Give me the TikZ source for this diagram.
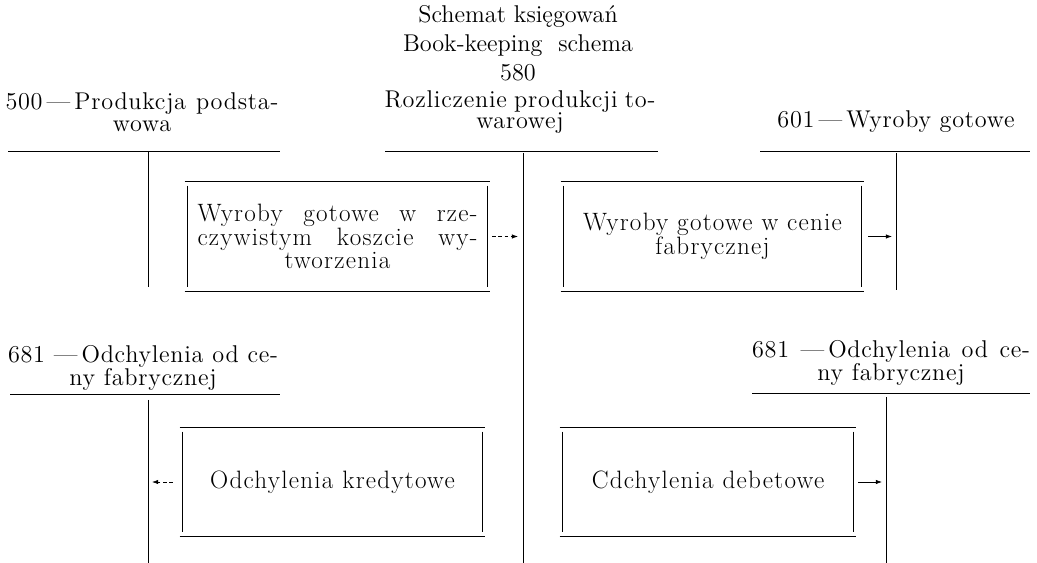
\documentclass[tikz,border=0pt]{standalone}
\usepackage{fontspec}
\newfontfamily\boxfont{Latin Modern Roman}[LetterSpace=5]
\newfontfamily\acctfont{Latin Modern Roman}[LetterSpace=3]
\usetikzlibrary{arrows.meta,positioning}
\tikzset{
  acct/.style={inner sep=0pt, align=center, font=\acctfont\fontsize{13.8}{12.4}\selectfont},
  boxtxt/.style={inner sep=0pt, align=center, font=\boxfont\fontsize{14.3}{13.3}\selectfont},
  tline/.style={line width=0.5pt},
  bline/.style={line width=0.4pt},
  post/.style={-{Latex[length=3.5pt,width=2.5pt]}, line width=0.4pt},
  postd/.style={post, dash pattern=on 2pt off 1.5pt}
}
\begin{document}
\begin{tikzpicture}[x=0.02cm, y=-0.02cm]
  \useasboundingbox (0,0) rectangle (1037,563);
  % title
  \node[acct, font=\fontsize{13.8}{16.5}\selectfont] (title) at (518,43) {Schemat księgowań\\Book-keeping~~schema\\580};
  % account headers
  \node[acct] (acct500) at (142,112) {\makebox[5.46cm][s]{500\,—\,Produkcja podsta-}\\wowa};
  \node[acct] (acct580) at (520,112) {\makebox[5.42cm][s]{Rozliczenie produkcji to-}\\warowej};
  \node[acct] (acct601) at (896,122) {601\,—\,Wyroby gotowe};
  \node[acct] (acct681a) at (143,368) {\makebox[5.4cm][s]{681 —\,Odchylenia od ce-}\\ny fabrycznej};
  \node[acct] (acct681b) at (891,363) {\makebox[5.56cm][s]{681 —\,Odchylenia od ce-}\\ny fabrycznej};
  % T-account lines
  \coordinate (t500L) at (8,151);   \coordinate (t500R) at (280,151);
  \coordinate (t500T) at (148,151); \coordinate (t500B) at (148,287);
  \coordinate (t580L) at (385,151); \coordinate (t580R) at (658,151);
  \coordinate (t580T) at (523,153); \coordinate (t580B) at (523,563);
  \coordinate (t601L) at (760,151); \coordinate (t601R) at (1030,151);
  \coordinate (t601T) at (896,153); \coordinate (t601B) at (896,290);
  \coordinate (t681aL) at (10,394); \coordinate (t681aR) at (280,394);
  \coordinate (t681aT) at (148,400); \coordinate (t681aB) at (148,563);
  \coordinate (t681bL) at (752,393); \coordinate (t681bR) at (1030,393);
  \coordinate (t681bT) at (886,397); \coordinate (t681bB) at (886,563);
  \draw[tline] (t500L) -- (t500R);   \draw[tline] (t500T) -- (t500B);
  \draw[tline] (t580L) -- (t580R);   \draw[tline] (t580T) -- (t580B);
  \draw[tline] (t601L) -- (t601R);   \draw[tline] (t601T) -- (t601B);
  \draw[tline] (t681aL) -- (t681aR); \draw[tline] (t681aT) -- (t681aB);
  \draw[tline] (t681bL) -- (t681bR); \draw[tline] (t681bT) -- (t681bB);
  % boxes
  \node[boxtxt, minimum width=6.1cm, minimum height=2.18cm] (wrkKoszt) at (337.5,236.5)
    {\makebox[5.6cm][s]{Wyroby gotowe w rze-}\\\makebox[5.6cm][s]{czywistym koszcie wy-}\\tworzenia};
  \node[boxtxt, minimum width=6.06cm, minimum height=2.18cm] (wrkCena) at (712.5,236.5)
    {Wyroby gotowe w cenie\\fabrycznej};
  \node[boxtxt, minimum width=6.1cm, minimum height=2.16cm] (odchKred) at (332.5,482)
    {Odchylenia kredytowe};
  \node[boxtxt, minimum width=5.92cm, minimum height=2.16cm] (odchDeb) at (708,482)
    {Cdchylenia debetowe};
  \foreach \b in {wrkKoszt,wrkCena,odchKred,odchDeb}{
    \draw[bline] (\b.north west) -- (\b.north east);
    \draw[bline] (\b.south west) -- (\b.south east);
    \draw[bline] ([shift={(3,4)}]\b.north west) -- ([shift={(3,-4)}]\b.south west);
    \draw[bline] ([shift={(-3,4)}]\b.north east) -- ([shift={(-3,-4)}]\b.south east);
  }
  % postings
  \draw[postd, shorten <=0.4mm, shorten >=1mm] (wrkKoszt.east) -- (wrkKoszt.east -| t580T);
  \draw[post, shorten <=0.8mm, shorten >=0.8mm] (wrkCena.east) -- (wrkCena.east -| t601T);
  \draw[postd, shorten <=1.4mm, shorten >=0.8mm] (odchKred.west) -- (odchKred.west -| t681aT);
  \draw[post, shorten <=0.4mm, shorten >=0.8mm] (odchDeb.east) -- (odchDeb.east -| t681bT);
\end{tikzpicture}
\end{document}
